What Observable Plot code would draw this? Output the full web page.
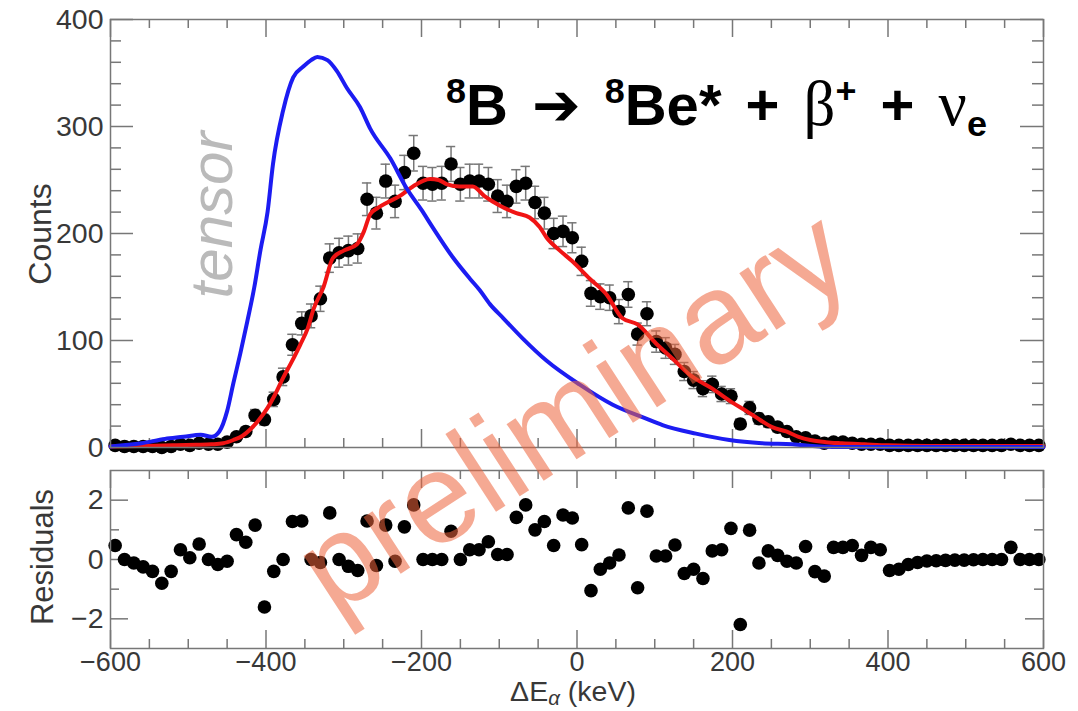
<!DOCTYPE html>
<html><head><meta charset="utf-8">
<script src="https://cdn.jsdelivr.net/npm/d3@7"></script>
<script src="https://cdn.jsdelivr.net/npm/@observablehq/plot@0.6"></script>
<style>
html,body{margin:0;padding:0;background:#fff;}
#wrap{position:relative;width:1078px;height:711px;overflow:hidden;font-family:"Liberation Sans",Arial,Helvetica,sans-serif;}
#wrap svg{position:absolute;left:0;top:0;}
.ov{position:absolute;white-space:nowrap;line-height:1;}
.sup{font-size:0.62em;position:relative;top:-0.62em;}
.sub{font-size:0.62em;position:relative;top:0.3em;}
.gr{font-family:"Liberation Serif",serif;font-weight:normal;font-size:1.08em;}
</style></head><body>
<div id="wrap"></div>
<script>
// ---- data ----
const energy = [-594,-582,-570,-558,-546,-534,-522,-510,-498,-486,-474,-462,-450,-438,-426,-414,-402,-390,-378,-366,-354,-342,-330,-318,-306,-294,-282,-270,-258,-246,-234,-222,-210,-198,-186,-174,-162,-150,-138,-126,-114,-102,-90,-78,-66,-54,-42,-30,-18,-6,6,18,30,42,54,66,78,90,102,114,126,138,150,162,174,186,198,210,222,234,246,258,270,282,294,306,318,330,342,354,366,378,390,402,414,426,438,450,462,474,486,498,510,522,534,546,558,570,582,594];
const counts = [2,1,1,1,1,0,1,3,2,4,3,3,5,10,15,30,26,45,66,96,116,123,139,177,182,184,186,232,219,249,230,257,275,247,246,247,265,246,249,249,246,235,230,244,247,229,219,200,202,196,174,144,141,140,127,143,106,125,99,93,87,71,63,55,59,50,48,22,37,27,24,19,15,10,9,6,4,5,5,4,3,3,3,2,2,2,2,2,2,2,2,2,2,2,2,2,3,2,2,2];
const residuals = [0.47,0,-0.12,-0.25,-0.4,-0.8,-0.4,0.33,0.06,0.52,0,-0.17,-0.06,0.84,0.58,1.16,-1.6,-0.4,0,1.28,1.3,0,-0.1,1.57,0,-0.23,-0.37,1.3,-0.2,1.16,-0.06,1.1,1.84,0,0,0,0.95,0,0.33,0.33,0.6,0.17,0.17,1.42,1.84,1.0,1.28,0.47,1.5,1.4,0.5,-1.05,-0.33,-0.12,0.15,1.74,-0.95,1.63,0.12,0.12,0.49,-0.47,-0.33,-0.64,0.29,0.33,1.05,-2.19,0.99,-0.12,0.29,0.14,-0.06,-0.12,0.44,-0.41,-0.56,0.41,0.41,0.47,0.14,0.41,0.33,-0.37,-0.33,-0.17,-0.1,-0.05,-0.04,-0.03,-0.02,-0.02,-0.01,0,0,0,0.41,0,0,0];
const binWidth = 12;

const fitEnergy = [-600,-560,-520,-490,-470,-455,-442,-430,-420,-410,-398,-388,-378,-367,-356,-346,-339,-326,-314,-300,-283,-274,-266,-256,-244,-228,-211,-189,-178,-167,-151,-134,-119,-99,-78,-61,-48,-39,-22,-6,16,38,58,78,102,123,145,174,200,218,235,251,269,285,300,320,341,370,400,450,600];
const fitCounts = [1,1.5,2,2.5,3,4,7,11,17,25,37,50,65,80,96,112,129,150,177,184,190,202,218,224,229,235,244,251,250,246,244,244,235,226,219,215,206,196,184,174,158,143,121,115,97,83,68,55,42,34,26,19,15,10,7,5,4,3,2,1.5,1.5];

const tensorEnergy = [-600,-560,-530,-506,-484,-470,-460,-450,-442,-433,-424,-415,-407,-398,-391,-378,-365,-352,-342,-334,-321,-309,-296,-279,-266,-240,-219,-200,-185,-160,-138,-125,-112,-95,-70,-39,3,46,89,110,153,196,238,277,311,350,600];
const tensorCounts = [1,4,8,10,12,10,15,34,60,88,118,150,185,220,265,315,346,356,362,365,362,352,336,318,298,270,242,222,205,178,158,147,134,121,102,81,59,40,27,21,13,7,4,3,1,0.5,0.5];

const countTicks = [0,100,200,300,400];
const countMinorTicks = [20,40,60,80,120,140,160,180,220,240,260,280,320,340,360,380];
const energyTicks = [-600,-400,-200,0,200,400,600];
const energyMinorTicks = [-550,-500,-450,-350,-300,-250,-150,-100,-50,50,100,150,250,300,350,450,500,550];
const residTicks = [-2,0,2];
const residMinorTicks = [-1,1];

// ---- layout ----
const W = 1078, ML = 110, MR = 35;
const innerW = W - ML - MR;
const H1 = 460, MT1 = 19, MB1 = 13, innerH1 = H1 - MT1 - MB1;
const H2 = 711, MT2 = 470, MB2 = 63, innerH2 = H2 - MT2 - MB2;
const frameColor = "#777";
const labelColor = "#383838";
const font = '"Liberation Sans", Arial, Helvetica, sans-serif';

const table = energy.map((x, i) => {
  const c = counts[i], e = Math.sqrt(c);
  return {x, c, lo: c - e, hi: c + e, xl: x - binWidth / 2, xr: x + binWidth / 2, r: residuals[i]};
});
const errTable = table.filter(d => d.c > 0);
const fitTable = fitEnergy.map((x, i) => ({x, y: fitCounts[i]}));
const tensorTable = tensorEnergy.map((x, i) => ({x, y: tensorCounts[i]}));

function xTicks(innerH) {
  const o = {stroke: frameColor, strokeWidth: 1.5};
  return [
    Plot.tickX(energyMinorTicks, {x: d => d, insetTop: innerH - 9, ...o}),
    Plot.tickX(energyMinorTicks, {x: d => d, insetBottom: innerH - 9, ...o}),
    Plot.tickX(energyTicks, {x: d => d, insetTop: innerH - 18, ...o}),
    Plot.tickX(energyTicks, {x: d => d, insetBottom: innerH - 18, ...o})
  ];
}
function yTicks(major, minor, majLen, minLen) {
  const o = {stroke: frameColor, strokeWidth: 1.5};
  return [
    Plot.tickY(minor, {y: d => d, insetRight: innerW - minLen, ...o}),
    Plot.tickY(minor, {y: d => d, insetLeft: innerW - minLen, ...o}),
    Plot.tickY(major, {y: d => d, insetRight: innerW - majLen, ...o}),
    Plot.tickY(major, {y: d => d, insetLeft: innerW - majLen, ...o})
  ];
}

const topPlot = Plot.plot({
  width: W, height: H1, marginLeft: ML, marginRight: MR, marginTop: MT1, marginBottom: MB1,
  x: {domain: [-600, 600], axis: null},
  y: {domain: [0, 400]},
  style: {background: "transparent", fontFamily: font, overflow: "visible"},
  marks: [
    Plot.axisY(countTicks, {anchor: "left", tickSize: 0, tickPadding: 7, fontSize: 28.5, color: labelColor, label: null}),
    ...xTicks(innerH1),
    ...yTicks(countTicks, countMinorTicks, 23, 11),
    Plot.ruleX(errTable, {x: "x", y1: "lo", y2: "hi", stroke: "#777", strokeWidth: 1.5}),
    Plot.ruleY(errTable, {y: "lo", x1: "xl", x2: "xr", stroke: "#777", strokeWidth: 1.5}),
    Plot.ruleY(errTable, {y: "hi", x1: "xl", x2: "xr", stroke: "#777", strokeWidth: 1.5}),
    Plot.dot(table, {x: "x", y: "c", r: 6.8, fill: "#000", stroke: null}),
    Plot.line(fitTable, {x: "x", y: "y", stroke: "#f01414", strokeWidth: 4, curve: "monotone-x"}),
    Plot.line(tensorTable, {x: "x", y: "y", stroke: "#1c1cf2", strokeWidth: 4, curve: "monotone-x"}),
    Plot.frame({stroke: frameColor, strokeWidth: 1.5})
  ]
});

const botPlot = Plot.plot({
  width: W, height: H2, marginLeft: ML, marginRight: MR, marginTop: MT2, marginBottom: MB2,
  x: {domain: [-600, 600]},
  y: {domain: [-3, 3]},
  style: {background: "transparent", fontFamily: font, overflow: "visible"},
  marks: [
    Plot.axisY(residTicks, {anchor: "left", tickSize: 0, tickPadding: 7, fontSize: 28.5, color: labelColor, label: null}),
    Plot.axisX(energyTicks, {anchor: "bottom", tickSize: 0, tickPadding: 3, fontSize: 27, color: labelColor, label: null}),
    ...xTicks(innerH2),
    ...yTicks(residTicks, residMinorTicks, 18, 9),
    Plot.dot(table, {x: "x", y: "r", r: 6.8, fill: "#000", stroke: null}),
    Plot.frame({stroke: frameColor, strokeWidth: 1.5})
  ]
});

const wrap = document.getElementById("wrap");
wrap.appendChild(topPlot);
wrap.appendChild(botPlot);

function overlay(html, css) {
  const d = document.createElement("div");
  d.className = "ov";
  d.innerHTML = html;
  Object.assign(d.style, css);
  wrap.appendChild(d);
  return d;
}
// axis titles
overlay("Counts", {left: "40px", top: "234px", fontSize: "32px", color: labelColor, transform: "translate(-50%,-50%) rotate(-90deg)"});
overlay("Residuals", {left: "42px", top: "557px", fontSize: "31px", color: labelColor, transform: "translate(-50%,-50%) rotate(-90deg)"});
overlay('ΔE<span style="font-style:italic;font-size:0.72em;position:relative;top:0.2em;">α</span> (keV)', {left: "573px", top: "691px", fontSize: "28.5px", color: labelColor, transform: "translate(-50%,-50%)"});
// annotation "tensor"
overlay("tensor", {left: "212px", top: "215px", fontSize: "60px", fontStyle: "italic", color: "#bababa", transform: "translate(-50%,-50%) rotate(-90deg)"});
// reaction title
overlay('<span class="sup">8</span>B <span style="font-family:\'DejaVu Sans\',sans-serif;">➔</span> <span class="sup">8</span>Be* + <span class="gr">β</span><span class="sup">+</span> + <span class="gr">ν</span><span class="sub">e</span>',
  {left: "446px", top: "73px", fontSize: "58px", fontWeight: "bold", color: "#000", wordSpacing: "8px"});
// watermark
overlay("preliminary", {left: "572px", top: "410px", fontSize: "128px", color: "rgb(238,100,60)", opacity: "0.55", transform: "translate(-50%,-50%) rotate(-33deg)"});
</script>
</body></html>
